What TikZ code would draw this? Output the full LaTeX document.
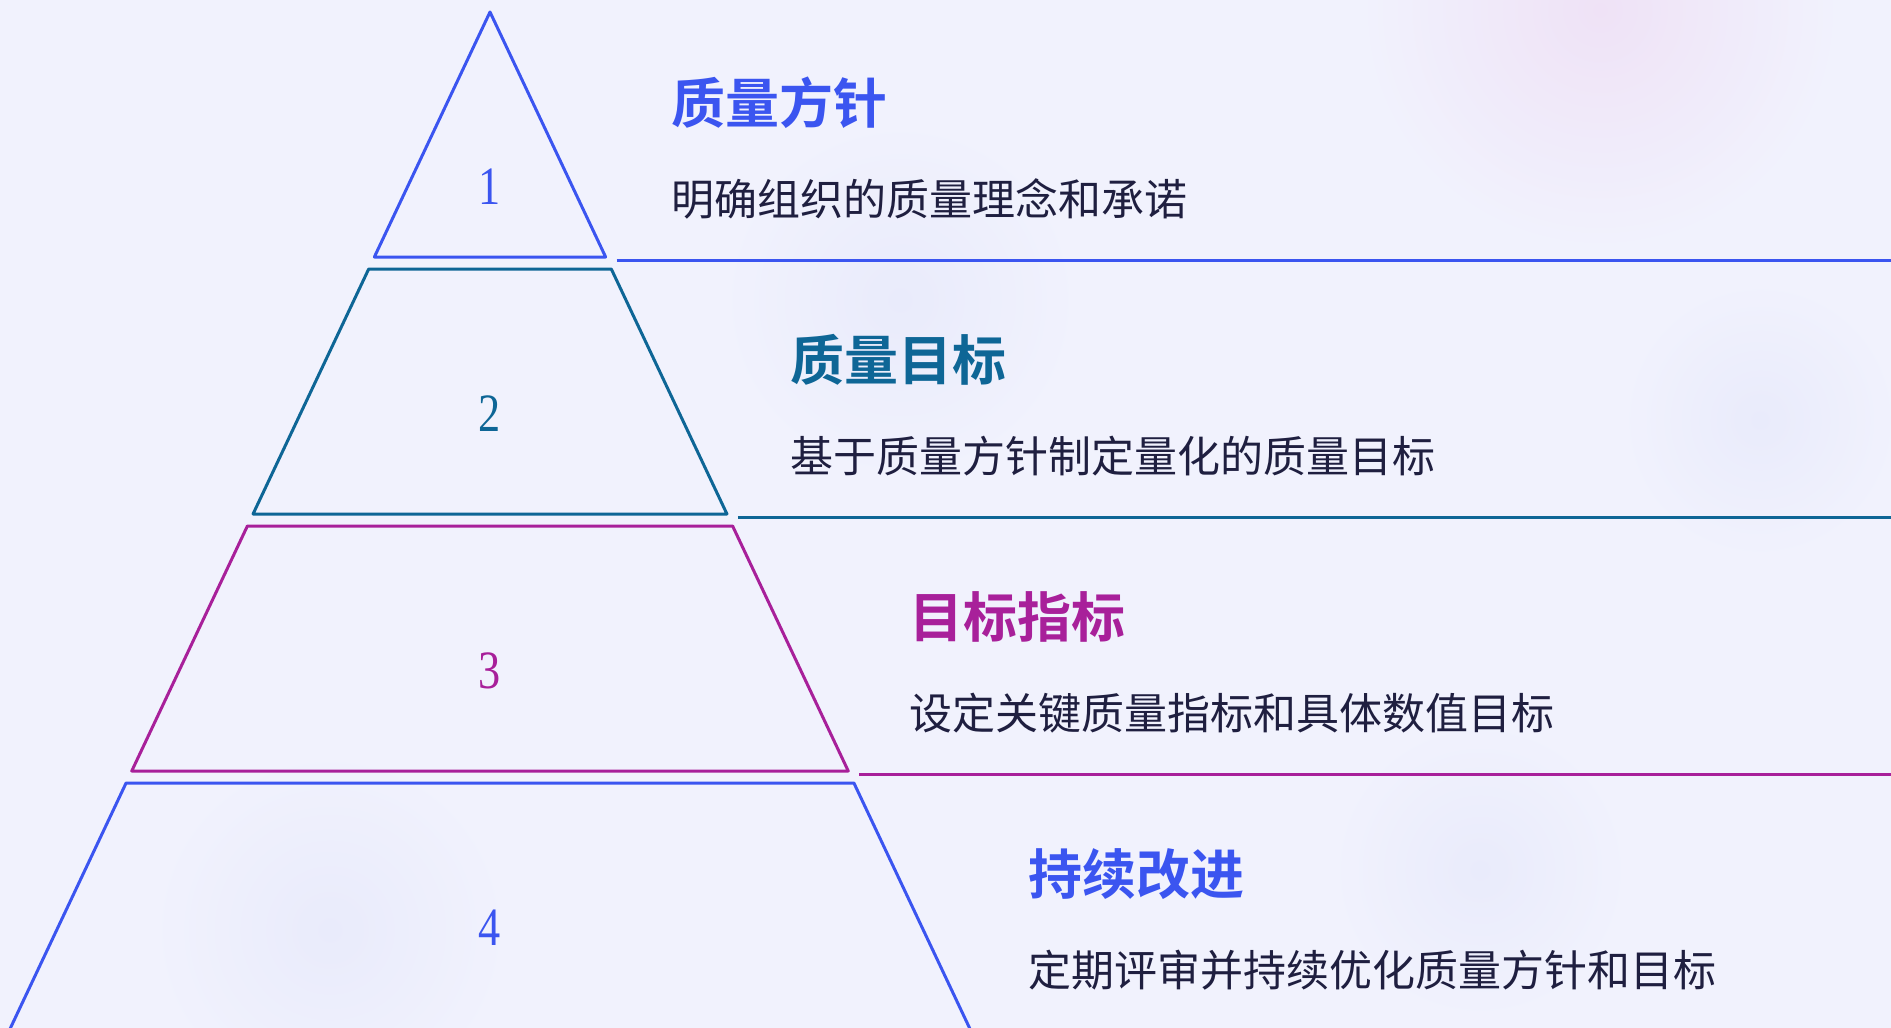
\documentclass[tikz,border=0pt]{standalone}
\usepackage{fontspec}
\newfontfamily\cjk[BoldFont={Noto Sans CJK SC Bold}]{Noto Sans CJK SC}
\newfontfamily\numfont[FakeStretch=0.82]{Liberation Serif}
\usetikzlibrary{positioning}

\definecolor{bgcol}{HTML}{F1F2FD}
\definecolor{pinkglow}{HTML}{EFE2F6}
\definecolor{blueglow}{HTML}{E9EBFB}
\definecolor{tierblue}{HTML}{3B55F0}
\definecolor{tierteal}{HTML}{0E6696}
\definecolor{tiermag}{HTML}{A8209A}
\definecolor{desccol}{HTML}{1F1F40}

\begin{document}
\begin{tikzpicture}[x=1pt,y=-1pt,
    tier/.style={line width=3pt,line join=round},
    sep/.style={line width=3pt},
    num/.style={inner sep=0pt,font=\numfont\fontsize{54}{54}\selectfont},
    title/.style={anchor=west,inner sep=0pt,font=\cjk\bfseries\fontsize{54}{54}\selectfont},
    desc/.style={anchor=west,inner sep=0pt,text=desccol,font=\cjk\fontsize{43}{43}\selectfont}]
  \fill[bgcol] (0,0) rectangle (1891,1028);
  \useasboundingbox (0,0) rectangle (1891,1028);
  \clip (0,0) rectangle (1891,1028);
  % soft glows in the background
  \shade[inner color=pinkglow,outer color=bgcol] (1600,10) circle (240);
  \shade[inner color=blueglow,outer color=bgcol] (900,300) circle (180);
  \shade[inner color=blueglow,outer color=bgcol] (1760,420) circle (140);
  \shade[inner color=blueglow,outer color=bgcol] (330,930) circle (180);
  \shade[inner color=blueglow,outer color=bgcol] (1480,870) circle (150);
  % the four tiers
  \foreach \i/\col/\head/\body in {
      1/tierblue/质量方针/明确组织的质量理念和承诺,
      2/tierteal/质量目标/基于质量方针制定量化的质量目标,
      3/tiermag/目标指标/设定关键质量指标和具体数值目标,
      4/tierblue/持续改进/定期评审并持续优化质量方针和目标}{
    \pgfmathsetmacro\ytop{12+257*(\i-1)}
    \pgfmathsetmacro\ybot{ifthenelse(\i==4,1045,\ytop+245)}
    \pgfmathsetmacro\wtop{0.472*(\ytop-12)}
    \pgfmathsetmacro\wbot{0.472*(\ybot-12)}
    \pgfmathsetmacro\ynum{ifthenelse(\i==1,\ytop+175,\ytop+145)}
    \coordinate (tl\i) at (490-\wtop,\ytop);
    \coordinate (tr\i) at (490+\wtop,\ytop);
    \coordinate (br\i) at (490+\wbot,\ybot);
    \coordinate (bl\i) at (490-\wbot,\ybot);
    \coordinate (e\i) at (1891,\ybot+3);
    \ifnum\i=1
      \draw[tier,draw=\col] (tl\i) -- (br\i) -- (bl\i) -- cycle;
    \else
      \draw[tier,draw=\col] (tl\i) -- (tr\i) -- (br\i) -- (bl\i) -- cycle;
    \fi
    \draw[sep,draw=\col] ([xshift=11pt,yshift=-3pt]br\i) -- (e\i);
    \node[num,text=\col] (n\i) at (490,\ynum) {\i};
    \node[title,text=\col] (h\i) at (671+119*\i-119,\ytop+91) {\head};
    \node[desc] (d\i) at ([yshift=-96pt]h\i.west) {\body};
  }
\end{tikzpicture}
\end{document}
